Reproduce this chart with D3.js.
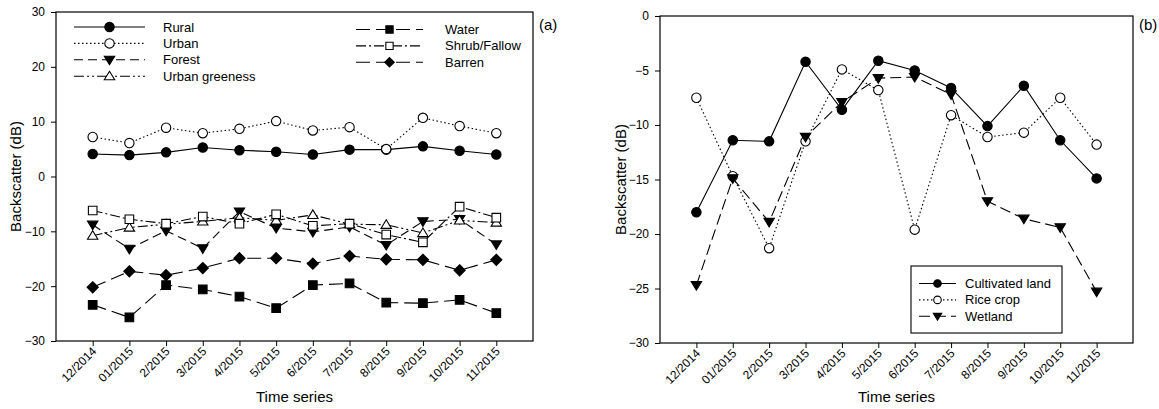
<!DOCTYPE html>
<html>
<head>
<meta charset="utf-8">
<script src="https://cdn.jsdelivr.net/npm/d3@7"></script>
<style>
  body { margin: 0; background: #fff; }
  svg { display: block; font-family: "Liberation Sans", Arial, sans-serif; }
  .axis path, .axis line { stroke: #000; stroke-width: 1; }
  .axis text { font-size: 12px; fill: #000; }
</style>
</head>
<body>
<svg id="chart" width="1159" height="409"></svg>
<script>
// months on the x axis (shared by both panels)
var months = ["12/2014", "01/2015", "2/2015", "3/2015", "4/2015", "5/2015", "6/2015", "7/2015", "8/2015", "9/2015", "10/2015", "11/2015"];

// panel (a)
var rural = [4.1, 3.9, 4.4, 5.3, 4.8, 4.5, 4.0, 4.9, 4.9, 5.5, 4.7, 4.0];
var urban = [7.2, 6.1, 8.9, 7.9, 8.7, 10.1, 8.4, 9.0, 5.0, 10.7, 9.2, 7.9];
var forest = [-8.8, -13.2, -9.9, -13.1, -6.4, -9.4, -10.1, -9.2, -12.5, -8.2, -7.8, -12.4];
var urbanGreeness = [-10.8, -9.3, -8.7, -8.2, -7.5, -8.0, -7.0, -8.7, -8.8, -10.3, -8.0, -8.4];
var water = [-23.4, -25.7, -19.8, -20.6, -21.9, -24.0, -19.8, -19.5, -23.0, -23.1, -22.5, -24.9];
var shrubFallow = [-6.2, -7.8, -8.6, -7.3, -8.6, -6.9, -9.0, -8.6, -10.6, -12.0, -5.5, -7.5];
var barren = [-20.2, -17.3, -18.0, -16.7, -14.9, -14.9, -15.9, -14.5, -15.1, -15.2, -17.1, -15.2];

// panel (b)
var cultivatedLand = [-18.0, -11.4, -11.5, -4.2, -8.6, -4.1, -5.0, -6.6, -10.1, -6.4, -11.4, -14.9];
var riceCrop = [-7.5, -14.7, -21.3, -11.5, -4.9, -6.8, -19.6, -9.1, -11.1, -10.7, -7.5, -11.8];
var wetland = [-24.7, -14.9, -18.9, -11.1, -7.9, -5.7, -5.6, -7.2, -17.0, -18.6, -19.4, -25.3];

var yTicksA = [-30, -20, -10, 0, 10, 20, 30];
var yTicksB = [-30, -25, -20, -15, -10, -5, 0];

var seriesA = [
  { name: "Rural", values: rural, marker: "circle", fill: "#000", dash: null },
  { name: "Urban", values: urban, marker: "circle", fill: "#fff", dash: "1.5,2.5" },
  { name: "Forest", values: forest, marker: "down", fill: "#000", dash: "9,5" },
  { name: "Urban greeness", values: urbanGreeness, marker: "up", fill: "#fff", dash: "10,3,2,3,2,3" },
  { name: "Water", values: water, marker: "square", fill: "#000", dash: "14,6" },
  { name: "Shrub/Fallow", values: shrubFallow, marker: "square", fill: "#fff", dash: "10,3,2,3" },
  { name: "Barren", values: barren, marker: "diamond", fill: "#000", dash: "14,6" }
];

var seriesB = [
  { name: "Cultivated land", values: cultivatedLand, marker: "circle", fill: "#000", dash: null },
  { name: "Rice crop", values: riceCrop, marker: "circle", fill: "#fff", dash: "1.5,2.5" },
  { name: "Wetland", values: wetland, marker: "down", fill: "#000", dash: "11,5" }
];

var svg = d3.select("#chart");

function markerPath(type) {
  switch (type) {
    case "circle": return "M-4.7,0A4.7,4.7 0 1,0 4.7,0A4.7,4.7 0 1,0 -4.7,0Z";
    case "square": return "M-4.3,-4.3H4.3V4.3H-4.3Z";
    case "diamond": return "M0,-5.6L5.6,0L0,5.6L-5.6,0Z";
    case "down": return "M-5.2,-3.6L5.2,-3.6L0,5Z";
    case "up": return "M-5.2,3.6L5.2,3.6L0,-5Z";
  }
}

function drawMarker(g, type, fill, x, y, k) {
  g.append("path")
    .attr("d", markerPath(type))
    .attr("transform", "translate(" + x + "," + y + ") scale(" + (k || 1) + ")")
    .attr("fill", fill)
    .attr("stroke", "#000")
    .attr("stroke-width", 1.1 / (k || 1));
}

function drawPanel(opts) {
  var x = d3.scaleLinear().domain([-1, months.length]).range([opts.left, opts.right]);
  var y = d3.scaleLinear().domain(opts.yDomain).range([opts.bottom, opts.top]);
  var g = svg.append("g");

  // frame
  g.append("rect")
    .attr("x", opts.left).attr("y", opts.top)
    .attr("width", opts.right - opts.left).attr("height", opts.bottom - opts.top)
    .attr("fill", "none").attr("stroke", "#000").attr("stroke-width", 1.2);

  var yAxis = d3.axisLeft(y).tickValues(opts.yTicks).tickSize(5).tickPadding(6).tickFormat(d3.format("d"));
  g.append("g").attr("class", "axis").attr("transform", "translate(" + opts.left + ",0)").call(yAxis)
    .call(function(s) { s.select(".domain").remove(); });

  var xAxis = d3.axisBottom(x).tickValues(d3.range(months.length)).tickSize(5)
    .tickFormat(function(i) { return months[i]; });
  var xg = g.append("g").attr("class", "axis").attr("transform", "translate(0," + opts.bottom + ")").call(xAxis);
  xg.select(".domain").remove();
  xg.selectAll("text")
    .attr("text-anchor", "end")
    .attr("dy", null).attr("y", 0)
    .attr("transform", "translate(4,11) rotate(-45)");

  // axis titles
  g.append("text")
    .attr("transform", "translate(" + opts.yTitleX + "," + ((opts.top + opts.bottom) / 2) + ") rotate(-90)")
    .attr("text-anchor", "middle").attr("font-size", 15).text("Backscatter (dB)");
  g.append("text")
    .attr("x", (opts.left + opts.right) / 2).attr("y", 402)
    .attr("text-anchor", "middle").attr("font-size", 15).text("Time series");

  g.append("text").attr("x", opts.right + 6).attr("y", 30).attr("font-size", 15).text(opts.tag);

  var line = d3.line().x(function(d, i) { return x(i); }).y(function(d) { return y(d); });

  opts.series.forEach(function(s) {
    g.append("path").datum(s.values)
      .attr("d", line)
      .attr("fill", "none").attr("stroke", "#000").attr("stroke-width", 1.1)
      .attr("stroke-dasharray", s.dash);
  });
  opts.series.forEach(function(s) {
    s.values.forEach(function(v, i) { drawMarker(g, s.marker, s.fill, x(i), y(v)); });
  });

  return g;
}

function legendEntry(g, s, x0, x1, ty, tx, k) {
  g.append("line")
    .attr("x1", x0).attr("x2", x1).attr("y1", ty).attr("y2", ty)
    .attr("stroke", "#000").attr("stroke-width", 1.1).attr("stroke-dasharray", s.dash);
  drawMarker(g, s.marker, s.fill, (x0 + x1) / 2, ty, k);
  g.append("text").attr("x", tx).attr("y", ty + 4.5).attr("font-size", 13).text(s.name);
}

var gA = drawPanel({
  left: 56, right: 533, top: 12, bottom: 341,
  yDomain: [-30, 30], yTicks: yTicksA, series: seriesA, tag: "(a)", yTitleX: 21
});
seriesA.slice(0, 4).forEach(function(s, i) {
  legendEntry(gA, s, 74, 145, 27 + i * 16.4, 163, 1);
});
seriesA.slice(4).forEach(function(s, i) {
  legendEntry(gA, s, 356, 423, 29.5 + i * 16.4, 445, 0.85);
});

var gB = drawPanel({
  left: 660, right: 1133, top: 16, bottom: 343,
  yDomain: [-30, 0], yTicks: yTicksB, series: seriesB, tag: "(b)", yTitleX: 626
});
gB.append("rect").attr("x", 911).attr("y", 266).attr("width", 151).attr("height", 67)
  .attr("fill", "#fff").attr("stroke", "#000").attr("stroke-width", 1.1);
seriesB.forEach(function(s, i) {
  legendEntry(gB, s, 919, 956, 283.5 + i * 16.4, 965, 0.8);
});
</script>
</body>
</html>
